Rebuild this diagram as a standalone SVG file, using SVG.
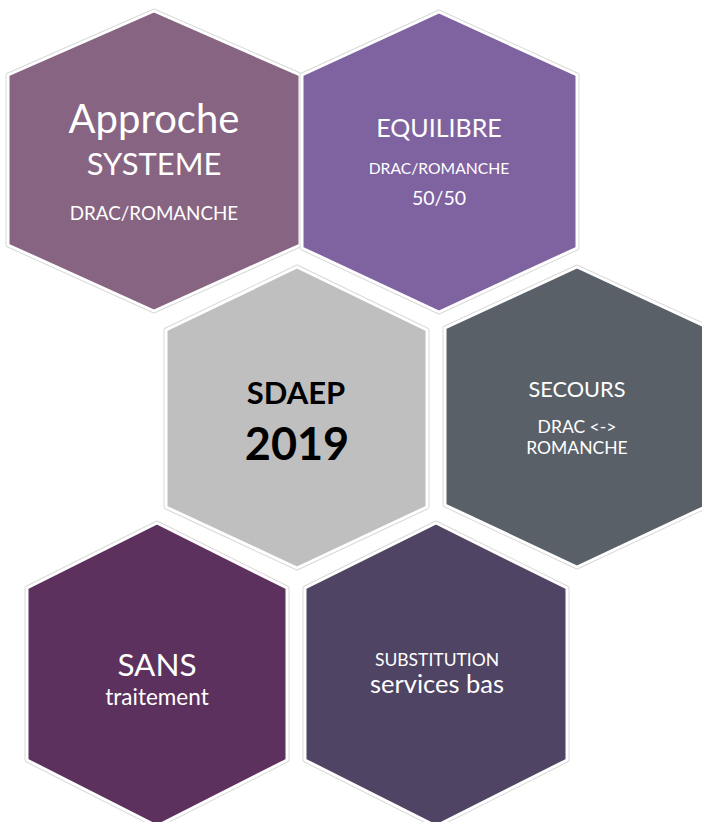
<svg xmlns="http://www.w3.org/2000/svg" width="702" height="822" viewBox="0 0 702 822">
<style>
.hex{stroke:#ffffff;stroke-width:3;stroke-linejoin:round}
.sh{fill:none;stroke:#d9d9d9;stroke-width:5;stroke-linejoin:round}
text{font-family:Lato,"Open Sans",sans-serif;text-anchor:middle;fill:#ffffff}
.b{font-weight:bold;fill:#000000}
</style>
<rect width="702" height="822" fill="#ffffff"/>
<g id="connectors"></g>
<g id="n1">
<polygon class="sh" points="154,11 300,75 300,245 154,311 8,245 8,75"/>
<polygon class="hex" fill="#876482" points="154,11 300,75 300,245 154,311 8,245 8,75"/>
<text x="154" y="133" font-size="40">Approche</text>
<text x="154" y="175" font-size="31">SYSTEME</text>
<text x="154" y="220" font-size="18.8">DRAC/ROMANCHE</text>
</g>
<g id="n2">
<polygon class="sh" points="439,12 577,75 577,248 439,312 302,248 302,75"/>
<polygon class="hex" fill="#7F63A1" points="439,12 577,75 577,248 439,312 302,248 302,75"/>
<text x="439" y="137" font-size="25">EQUILIBRE</text>
<text x="439" y="174" font-size="15.7">DRAC/ROMANCHE</text>
<text x="439" y="205" font-size="19.5">50/50</text>
</g>
<g id="n3">
<polygon class="sh" points="297,267 427,330 427,507 297,568 166,507 166,330"/>
<polygon class="hex" fill="#BFBFBF" points="297,267 427,330 427,507 297,568 166,507 166,330"/>
<text class="b" x="296" y="404" font-size="31">SDAEP</text>
<text class="b" x="297" y="460" font-size="45">2019</text>
</g>
<g id="n4">
<polygon class="sh" points="577,267 709,328 709,505 577,567 445,505 445,328"/>
<polygon class="hex" fill="#5A6068" points="577,267 709,328 709,505 577,567 445,505 445,328"/>
<text x="577" y="397" font-size="21.7">SECOURS</text>
<text x="577" y="433" font-size="17.5">DRAC &lt;-&gt;</text>
<text x="577" y="454" font-size="17.5">ROMANCHE</text>
</g>
<g id="n5">
<polygon class="sh" points="157,523 287,588 287,760 157,826 27,760 27,588"/>
<polygon class="hex" fill="#5D315E" points="157,523 287,588 287,760 157,826 27,760 27,588"/>
<text x="157" y="676" font-size="31.5">SANS</text>
<text x="157" y="705" font-size="22.5">traitement</text>
</g>
<g id="n6">
<polygon class="sh" points="436,523 567,588 567,760 436,826 305,760 305,588"/>
<polygon class="hex" fill="#4F4463" points="436,523 567,588 567,760 436,826 305,760 305,588"/>
<text x="437" y="666" font-size="17.5">SUBSTITUTION</text>
<text x="437" y="693" font-size="25.5">services bas</text>
</g>
</svg>
